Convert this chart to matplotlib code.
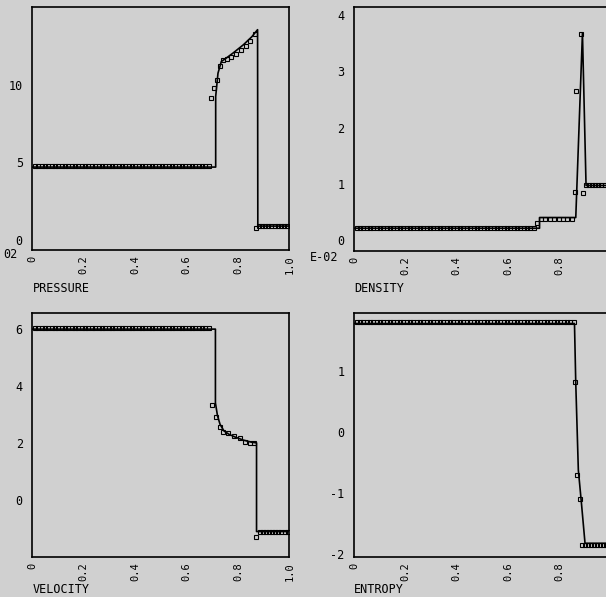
import matplotlib
matplotlib.use("Agg")
from matplotlib import pyplot as plt

# cell positions of the undisturbed left state (shared by all four panels)
x_left = [0.010, 0.023, 0.036, 0.049, 0.062, 0.075, 0.088, 0.101, 0.114, 0.127,
          0.140, 0.153, 0.166, 0.179, 0.192, 0.205, 0.218, 0.231, 0.244, 0.257,
          0.270, 0.283, 0.296, 0.309, 0.322, 0.335, 0.348, 0.361, 0.374, 0.387,
          0.400, 0.413, 0.426, 0.439, 0.452, 0.465, 0.478, 0.491, 0.504, 0.517,
          0.530, 0.543, 0.556, 0.569, 0.582, 0.595, 0.608, 0.621, 0.634, 0.647,
          0.660, 0.673, 0.686]
x_mid = [0.699, 0.712, 0.725, 0.738, 0.751, 0.764, 0.777, 0.790, 0.803, 0.816,
         0.829, 0.842, 0.855]

# pressure (x 1E+02)
p_left = 4.75
p_wave_x = [0.695, 0.708, 0.717, 0.730, 0.740, 0.756, 0.773, 0.793, 0.813, 0.830, 0.846, 0.866, 0.870]
p_wave_y = [9.14, 9.79, 10.3, 11.2, 11.6, 11.66, 11.8, 12.0, 12.26, 12.47, 12.8, 13.3, 0.75]
p_right_x = [0.882, 0.894, 0.906, 0.918, 0.930, 0.942, 0.954, 0.966, 0.978, 0.990]
p_right = 0.9
p_line_x = [0.0, 0.713, 0.713, 0.722, 0.735, 0.755, 0.781, 0.821, 0.854, 0.876, 0.877, 1.0]
p_line_y = [4.70, 4.70, 9.25, 10.75, 11.5, 11.73, 12.05, 12.58, 13.1, 13.55, 0.9, 0.9]

# density (x 1E-02)
d_left = 0.21
d_wave_x = [0.699, 0.712, 0.728, 0.745, 0.762, 0.779, 0.796, 0.813, 0.830, 0.847,
            0.859, 0.865, 0.885, 0.892, 0.903]
d_wave_y = [0.21, 0.30, 0.38, 0.38, 0.38, 0.38, 0.38, 0.38, 0.38, 0.38,
            0.85, 2.65, 3.66, 0.84, 0.97]
d_right_x = [0.915, 0.927, 0.939, 0.951, 0.963, 0.975, 0.987, 0.999]
d_right = 0.98
d_line_x = [0.0, 0.722, 0.722, 0.863, 0.889, 0.903, 1.0]
d_line_y = [0.21, 0.21, 0.40, 0.40, 3.68, 0.97, 0.97]

# velocity
u_left = 6.03
u_wave_x = [0.697, 0.713, 0.730, 0.742, 0.762, 0.785, 0.807, 0.827, 0.846, 0.863, 0.870]
u_wave_y = [3.32, 2.91, 2.56, 2.39, 2.33, 2.24, 2.16, 2.04, 2.0, 2.0, -1.28]
u_right_x = [0.885, 0.897, 0.909, 0.921, 0.933, 0.945, 0.957, 0.969, 0.981, 0.993]
u_right = -1.1
u_line_x = [0.0, 0.712, 0.712, 0.720, 0.730, 0.745, 0.765, 0.790, 0.820, 0.850, 0.872, 0.872, 1.0]
u_line_y = [5.98, 5.98, 3.40, 2.95, 2.65, 2.42, 2.30, 2.20, 2.10, 2.03, 2.0, -1.1, -1.1]

# entropy
s_left = 1.79
s_wave_x = [0.859, 0.869, 0.880]
s_wave_y = [0.82, -0.71, -1.11]
s_right_x = [0.886, 0.898, 0.910, 0.922, 0.934, 0.946, 0.958, 0.970, 0.982, 0.994]
s_right = -1.86
s_line_x = [0.0, 0.858, 0.863, 0.873, 0.885, 0.899, 1.0]
s_line_y = [1.77, 1.77, 0.79, -0.63, -1.17, -1.83, -1.83]

x_ticks = [0, 0.2, 0.4, 0.6, 0.8, 1.0]
x_ticklabels = ["0", "0.2", "0.4", "0.6", "0.8", "1.0"]

BG = "#d0d0d0"
FONT = "DejaVu Sans Mono"
FS = 8.5


def draw_panel(ax, line_x, line_y, sq_x, sq_y, yticks, ylim, title, title_y, scale=None, scale_pos=None):
    ax.set_facecolor(BG)
    ax.plot(line_x, line_y, color="black", lw=1.2, zorder=2)
    ax.plot(sq_x, sq_y, ls="none", marker="s", ms=3.2, mfc="none", mec="black", mew=0.8, zorder=3)
    ax.set_xlim(0, 1.0)
    ax.set_ylim(*ylim)
    ax.set_xticks(x_ticks)
    ax.set_xticklabels(x_ticklabels, rotation=90, fontfamily=FONT, fontsize=7.5, va="top")
    ax.set_yticks(yticks)
    ax.set_yticklabels([str(t) for t in yticks], fontfamily=FONT, fontsize=FS)
    ax.tick_params(axis="both", length=0, colors="black")
    ax.tick_params(axis="x", pad=4)
    ax.tick_params(axis="y", pad=7)
    for sp in ax.spines.values():
        sp.set_linewidth(1.2)
        sp.set_color("black")
    ax.text(0.0, title_y, title, transform=ax.transAxes, ha="left", va="center",
            fontfamily=FONT, fontsize=FS)
    if scale is not None:
        ax.text(scale_pos[0], scale_pos[1], scale, transform=ax.transAxes, ha="left", va="center",
                fontfamily=FONT, fontsize=FS)


fig = plt.figure(figsize=(6.06, 5.97), dpi=100, facecolor=BG)

ax_p = fig.add_axes([0.0536, 0.581, 0.424, 0.407])
ax_d = fig.add_axes([0.5842, 0.580, 0.424, 0.408])
ax_u = fig.add_axes([0.0536, 0.0675, 0.424, 0.409])
ax_s = fig.add_axes([0.5842, 0.0675, 0.424, 0.409])

draw_panel(ax_p, p_line_x, p_line_y,
           x_left + p_wave_x + p_right_x,
           [p_left] * len(x_left) + p_wave_y + [p_right] * len(p_right_x),
           [0, 5, 10], (-0.65, 15.0), "PRESSURE", -0.157, "02", (-0.115, -0.016))

draw_panel(ax_d, d_line_x, d_line_y,
           x_left + d_wave_x + d_right_x,
           [d_left] * len(x_left) + d_wave_y + [d_right] * len(d_right_x),
           [0, 1, 2, 3, 4], (-0.19, 4.14), "DENSITY", -0.157, "E-02", (-0.171, -0.027))

draw_panel(ax_u, u_line_x, u_line_y,
           x_left + u_wave_x + u_right_x,
           [u_left] * len(x_left) + u_wave_y + [u_right] * len(u_right_x),
           [0, 2, 4, 6], (-1.98, 6.56), "VELOCITY", -0.136)

draw_panel(ax_s, s_line_x, s_line_y,
           x_left + x_mid + s_wave_x + s_right_x,
           [s_left] * (len(x_left) + len(x_mid)) + s_wave_y + [s_right] * len(s_right_x),
           [-2, -1, 0, 1], (-2.05, 1.95), "ENTROPY", -0.136)

fig.savefig("out.png", dpi=100, facecolor=BG)
